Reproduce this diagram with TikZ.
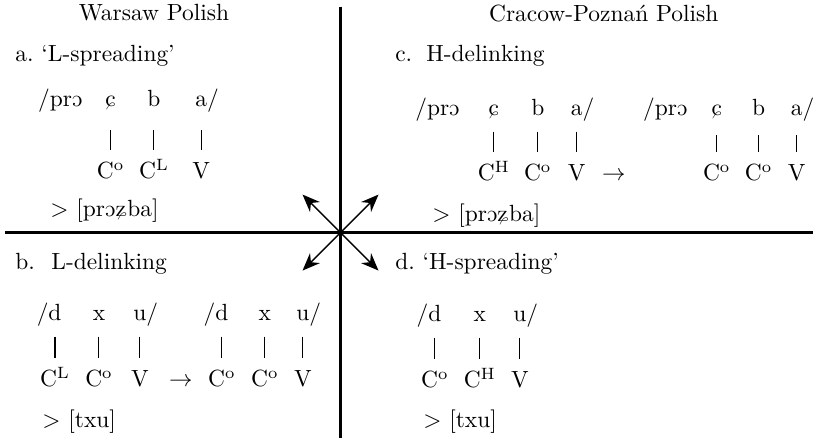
\documentclass[tikz,border=0pt]{standalone}
\usepackage{tipa}
\usepackage{tikz}
\usetikzlibrary{arrows.meta}

\begin{document}
\begin{tikzpicture}[x=1cm,y=1cm,
  txt/.style={anchor=base west,inner sep=0pt},
  seg/.style={anchor=base,inner sep=0pt,text depth=0pt},
  cv/.style={anchor=base,inner sep=0pt,text height=1.5ex,text depth=0pt},
  assoc/.style={line width=0.45pt,shorten <=6.5pt,shorten >=5.5pt},
  axis/.style={line width=1pt},
  spoke/.style={line width=0.6pt,-{Stealth[length=7.5pt,width=6pt]}}]
\path[use as bounding box] (0,0) rectangle (12.20,6.57);
% quadrants
\coordinate (top) at (5.11,6.47);
\coordinate (bottom) at (5.11,0);
\coordinate (left) at (0.08,3.08);
\coordinate (right) at (12.20,3.08);
\coordinate (hub) at (5.11,3.08);
\draw[axis] (top) -- (bottom);
\draw[axis] (left) -- (right);
\coordinate (nw) at (4.54,3.65);
\coordinate (ne) at (5.68,3.65);
\coordinate (sw) at (4.54,2.51);
\coordinate (se) at (5.68,2.51);
\draw[spoke] (hub) -- (nw);
\draw[spoke] (hub) -- (ne);
\draw[spoke] (hub) -- (sw);
\draw[spoke] (hub) -- (se);
\node[anchor=base] (warsaw) at (2.31,6.255) {Warsaw Polish};
\node[anchor=base] (cracow) at (9.06,6.24) {Cracow-Poznań Polish};
% a. Warsaw, prośba
\node[txt] (atitle) at (0.225,5.64) {a.\ `L-spreading'};
\node[seg,anchor=base east] (apre) at (1.245,4.965) {/pr\textopeno};
\node[seg] (as1) at (1.66,4.965) {\textctc};
\node[seg] (as2) at (2.31,4.965) {b};
\node[seg] (as3) at (3.02,4.965) {a\rlap{/}};
\node[cv] (ac1) at (1.66,3.885) {C\textsuperscript{o}};
\node[cv] (ac2) at (2.31,3.885) {C\textsuperscript{L}};
\node[cv] (ac3) at (3.02,3.885) {V};
\draw[assoc,shorten <=9.8pt] (as1) -- (ac1);
\draw[assoc,shorten <=9.8pt] (as2) -- (ac2);
\draw[assoc,shorten <=9.8pt] (as3) -- (ac3);
\node[txt] (aout) at (0.75,3.315) {$>$ [pr\textopeno\textctz ba]};
% c. Cracow-Poznan, prosba
\node[txt] (ctitle) at (5.925,5.64) {c.\hspace{6pt}H-delinking};
\node[seg,anchor=base west] (cpre) at (6.225,4.83) {/pr\textopeno};
\node[seg] (cs1) at (7.41,4.83) {\textctc};
\node[seg] (cs2) at (8.07,4.83) {b};
\node[seg] (cs3) at (8.655,4.83) {a\rlap{/}};
\node[cv] (cc1) at (7.41,3.855) {C\textsuperscript{H}};
\node[cv] (cc2) at (8.07,3.855) {C\textsuperscript{o}};
\node[cv] (cc3) at (8.655,3.855) {V};
\draw[assoc] (cs1) -- (cc1);
\draw[assoc] (cs2) -- (cc2);
\draw[assoc] (cs3) -- (cc3);
\node[anchor=base] (carrow) at (9.21,3.855) {$\rightarrow$};
\node[seg,anchor=base west] (cpreb) at (9.645,4.83) {/pr\textopeno};
\node[seg] (cs4) at (10.755,4.83) {\textctc};
\node[seg] (cs5) at (11.385,4.83) {b};
\node[seg] (cs6) at (11.955,4.83) {a\rlap{/}};
\node[cv] (cc4) at (10.755,3.855) {C\textsuperscript{o}};
\node[cv] (cc5) at (11.385,3.855) {C\textsuperscript{o}};
\node[cv] (cc6) at (11.955,3.855) {V};
\draw[assoc,shorten <=8pt] (cs4) -- (cc4);
\draw[assoc,shorten <=8pt] (cs5) -- (cc5);
\draw[assoc,shorten <=8pt] (cs6) -- (cc6);
\node[txt] (cout) at (6.48,3.24) {$>$ [pr\textopeno\textctz ba]};
% b. Warsaw, duch
\node[txt] (btitle) at (0.225,2.52) {b.\hspace{7pt}L-delinking};
\node[seg] (bs1) at (0.825,1.755) {\llap{/}d};
\node[seg] (bs2) at (1.485,1.755) {x};
\node[seg] (bs3) at (2.10,1.755) {u\rlap{/}};
\node[cv] (bc1) at (0.825,0.765) {C\textsuperscript{L}};
\node[cv] (bc2) at (1.485,0.765) {C\textsuperscript{o}};
\node[cv] (bc3) at (2.10,0.765) {V};
\draw[assoc] (bs1) -- (bc1);
\draw[assoc] (bs2) -- (bc2);
\draw[assoc] (bs3) -- (bc3);
\node[anchor=base] (barrow) at (2.715,0.765) {$\rightarrow$};
\node[seg] (bs4) at (3.33,1.755) {\llap{/}d};
\node[seg] (bs5) at (3.975,1.755) {x};
\node[seg] (bs6) at (4.545,1.755) {u\rlap{/}};
\node[cv] (bc4) at (3.33,0.765) {C\textsuperscript{o}};
\node[cv] (bc5) at (3.975,0.765) {C\textsuperscript{o}};
\node[cv] (bc6) at (4.545,0.765) {V};
\draw[assoc] (bs4) -- (bc4);
\draw[assoc] (bs5) -- (bc5);
\draw[assoc] (bs6) -- (bc6);
\node[txt] (bout) at (0.63,0.15) {$>$ [txu]};
% d. Cracow-Poznan, duch
\node[txt] (dtitle) at (5.925,2.52) {d.\ `H-spreading'};
\node[seg] (ds1) at (6.525,1.74) {\llap{/}d};
\node[seg] (ds2) at (7.20,1.74) {x};
\node[seg] (ds3) at (7.80,1.74) {u\rlap{/}};
\node[cv] (dc1) at (6.525,0.75) {C\textsuperscript{o}};
\node[cv] (dc2) at (7.20,0.75) {C\textsuperscript{H}};
\node[cv] (dc3) at (7.80,0.75) {V};
\draw[assoc] (ds1) -- (dc1);
\draw[assoc] (ds2) -- (dc2);
\draw[assoc] (ds3) -- (dc3);
\node[txt] (dout) at (6.345,0.15) {$>$ [txu]};
\end{tikzpicture}
\end{document}
